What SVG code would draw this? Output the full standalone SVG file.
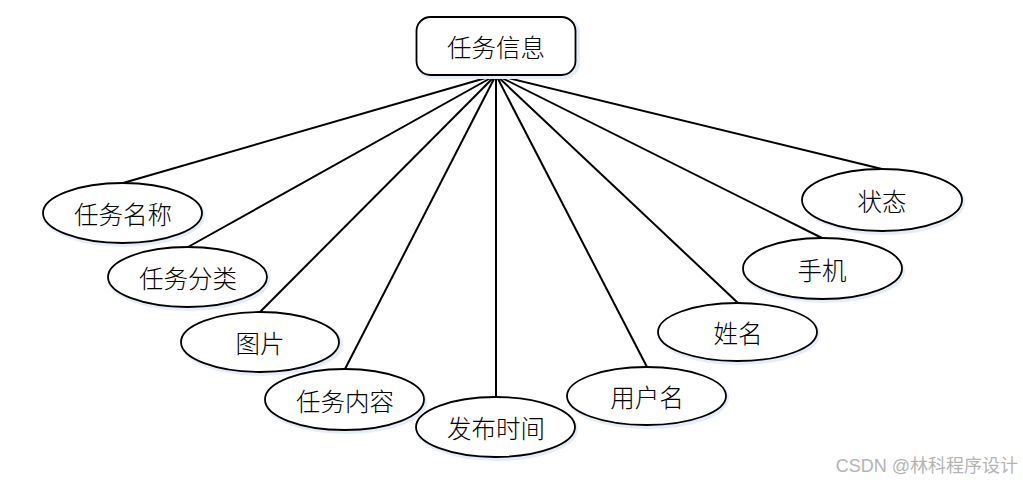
<svg xmlns="http://www.w3.org/2000/svg" width="1023" height="485" viewBox="0 0 1023 485">
<style>
.e{fill:#fff;stroke:#000;stroke-width:1.8}
.sh{fill:none;stroke:#e6edf8;stroke-width:4}
.t{font-family:"Noto Sans CJK SC","Liberation Sans",sans-serif;font-size:24.5px;font-weight:300;fill:#000;text-anchor:middle;dominant-baseline:central}
.c line{stroke:#000;stroke-width:2}
</style>
<rect width="1023" height="485" fill="#fff"/>
<g class="c" id="connectors">
<line x1="496" y1="75" x2="123" y2="183"/>
<line x1="496" y1="75" x2="188" y2="247"/>
<line x1="496" y1="75" x2="260" y2="312"/>
<line x1="496" y1="75" x2="345" y2="369"/>
<line x1="496" y1="75" x2="496" y2="397"/>
<line x1="496" y1="75" x2="647" y2="367"/>
<line x1="496" y1="75" x2="738" y2="303"/>
<line x1="496" y1="75" x2="822" y2="238"/>
<line x1="496" y1="75" x2="882" y2="169"/>
</g>
<g id="n0"><rect class="sh" x="418" y="19" width="160" height="58" rx="14"/><rect class="e" x="416.5" y="17" width="159" height="58" rx="14"/><text class="t" x="496" y="46">任务信息</text></g>
<g id="n1"><ellipse class="sh" cx="124" cy="215" rx="79" ry="30"/><ellipse class="e" cx="122.5" cy="213" rx="79.5" ry="30"/><text class="t" x="123" y="213">任务名称</text></g>
<g id="n2"><ellipse class="sh" cx="189" cy="279" rx="79" ry="30"/><ellipse class="e" cx="187.5" cy="277" rx="79.5" ry="30"/><text class="t" x="188" y="277">任务分类</text></g>
<g id="n3"><ellipse class="sh" cx="262" cy="344" rx="79" ry="30"/><ellipse class="e" cx="260" cy="342" rx="79" ry="30"/><text class="t" x="260" y="342">图片</text></g>
<g id="n4"><ellipse class="sh" cx="346" cy="402" rx="79" ry="30"/><ellipse class="e" cx="344.5" cy="399.5" rx="79.5" ry="30.5"/><text class="t" x="345" y="400">任务内容</text></g>
<g id="n5"><ellipse class="sh" cx="497" cy="429" rx="79" ry="30"/><ellipse class="e" cx="495.5" cy="427" rx="79.5" ry="30"/><text class="t" x="496" y="427">发布时间</text></g>
<g id="n6"><ellipse class="sh" cx="648" cy="398" rx="79" ry="29"/><ellipse class="e" cx="646.5" cy="396" rx="79.5" ry="29"/><text class="t" x="647" y="396">用户名</text></g>
<g id="n7"><ellipse class="sh" cx="739" cy="334" rx="79" ry="29"/><ellipse class="e" cx="737.5" cy="332" rx="79.5" ry="29"/><text class="t" x="738" y="332">姓名</text></g>
<g id="n8"><ellipse class="sh" cx="824" cy="271" rx="79" ry="30"/><ellipse class="e" cx="822.5" cy="268.5" rx="79.5" ry="30.5"/><text class="t" x="822" y="269">手机</text></g>
<g id="n9"><ellipse class="sh" cx="884" cy="202" rx="79" ry="31"/><ellipse class="e" cx="882" cy="200" rx="80" ry="31"/><text class="t" x="882" y="200">状态</text></g>
<text x="1018" y="466" font-family="'Liberation Sans','Noto Sans CJK SC',sans-serif" font-size="18" fill="#b4b4b4" text-anchor="end" dominant-baseline="central">CSDN @林科程序设计</text>
</svg>
